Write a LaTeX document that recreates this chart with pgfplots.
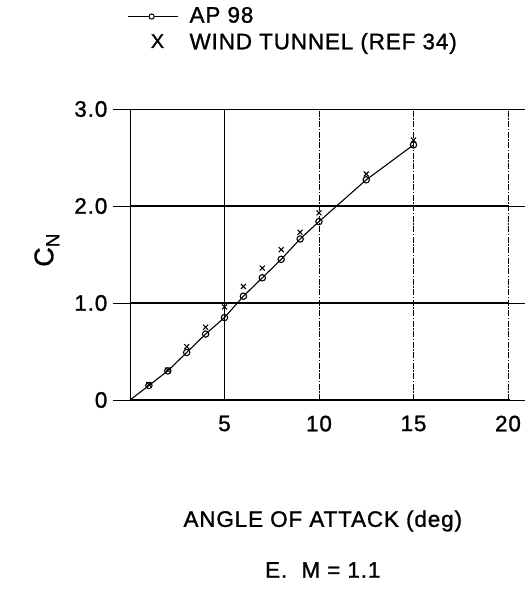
\documentclass[border=0pt]{standalone}
\usepackage{fontspec}
\setmainfont{Liberation Sans}[LetterSpace=4, FakeBold=1.2]
\usepackage{pgfplots}
\pgfplotsset{compat=1.18}
\begin{document}
\fontsize{22.5}{26}\selectfont
\begin{tikzpicture}
\begin{axis}[
  scale only axis,
  width=378bp, height=291bp,
  xmin=0, xmax=20, ymin=0, ymax=3,
  xtick={5,10,15,20},
  ytick={0,1,2,3},
  yticklabels={0,1.0,2.0,3.0},
  /pgf/number format/assume math mode=true,
  tick align=outside,
  major tick length=17bp,
  xtick style={draw=none},
  ytick style={black, line width=0.8pt},
  axis line style={draw=none},
  xticklabel style={font=\fontsize{22.5}{26}\selectfont, yshift=9bp},
  yticklabel style={font=\fontsize{22.5}{26}\selectfont, xshift=2bp},
  clip=false,
  legend style={draw=none, fill=none, at={(rel axis cs:-0.008,1.358)}, anchor=north west,
    font=\fontsize{22.5}{26}\selectfont, row sep=3bp, inner sep=0pt},
  legend cell align=left,
]
% frame and grid
\draw[line width=1.8pt] (axis cs:0,0) -- (axis cs:20.1,0);
\draw[line width=0.7pt] (axis cs:0,0) -- (axis cs:0,3);
\draw[line width=1.0pt] (axis cs:0,3) -- (axis cs:20,3);
\draw[line width=1.4pt] (axis cs:0,1) -- (axis cs:20,1);
\draw[line width=1.2pt] (axis cs:0,2) -- (axis cs:20,2);
\draw[line width=0.8pt] (axis cs:5,0) -- (axis cs:5,3);
\draw[line width=0.7pt, dash pattern=on 6bp off 1.5bp on 1.5bp off 1.5bp] (axis cs:10,0) -- (axis cs:10,3);
\draw[line width=0.7pt, dash pattern=on 6bp off 1.5bp on 1.5bp off 1.5bp] (axis cs:15,0) -- (axis cs:15,3);
\draw[line width=0.7pt, dash pattern=on 6bp off 1.5bp on 1.5bp off 1.5bp] (axis cs:20,0) -- (axis cs:20,3);

\addplot[black, line width=1.1pt, mark=o, mark size=3.2bp, mark options={line width=1.1pt, solid}, mark indices={2,...,13},
  legend image code/.code={\draw[black, line width=0.9pt] (0bp,0bp) -- (50bp,0bp); \draw[black, line width=1pt, fill=white] (24bp,0bp) circle (2.6bp); \path[draw=none] (0bp,0bp) -- (60bp,0bp);}]
  coordinates {(0,0) (1,0.15) (2,0.30) (3,0.49) (4,0.68) (5,0.85) (6,1.07) (7,1.26) (8,1.45) (9,1.66) (10,1.84) (12.5,2.27) (15,2.63)};
\addlegendentry{AP 98}
\addplot[black, only marks, mark=x, mark size=3.5bp, mark options={line width=1.1pt},
  legend image code/.code={\node[inner sep=0pt, draw=none] at (23bp,0bp) {\fontsize{20}{24}\selectfont X}; \path[draw=none] (0bp,0bp) -- (60bp,0bp);}]
  coordinates {(1,0.16) (2,0.31) (3,0.55) (4,0.75) (5,0.96) (6,1.17) (7,1.36) (8,1.55) (9,1.73) (10,1.93) (12.5,2.33) (15,2.68)};
\addlegendentry{WIND TUNNEL (REF 34)}

\node[rotate=90] at (axis description cs:-0.22,0.515) {\fontsize{27}{30}\selectfont C\raisebox{-6bp}{\fontsize{19}{22}\selectfont N}};
\node at (axis description cs:0.51,-0.416) {ANGLE OF ATTACK (deg)};
\node at (axis description cs:0.51,-0.584) {E.\ \ M = 1.1};
\path (-130bp,-190bp) rectangle (395bp,400bp);
\end{axis}
\end{tikzpicture}
\end{document}
